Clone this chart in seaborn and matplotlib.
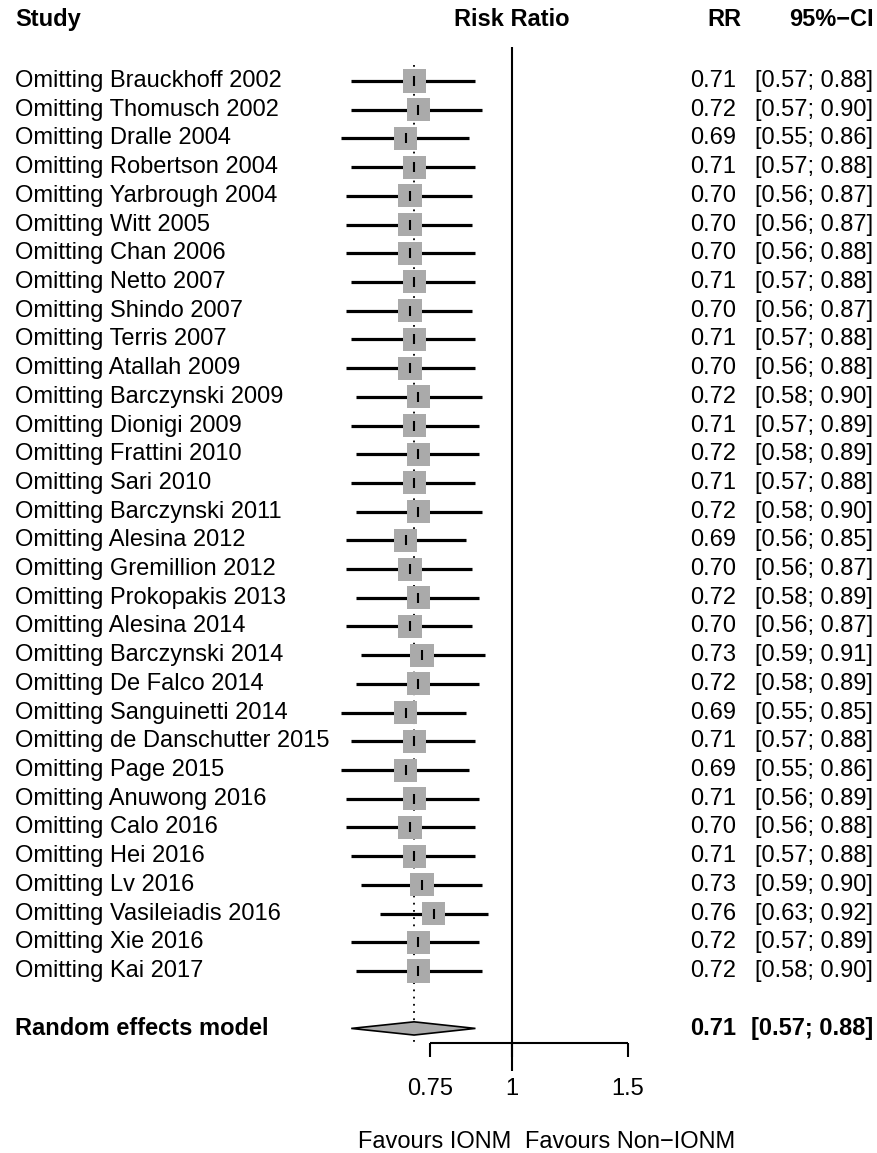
import numpy as np
import pandas as pd
import matplotlib
matplotlib.use("Agg")
import matplotlib.pyplot as plt
import seaborn as sns

studies = ["Brauckhoff 2002", "Thomusch 2002", "Dralle 2004", "Robertson 2004",
           "Yarbrough 2004", "Witt 2005", "Chan 2006", "Netto 2007", "Shindo 2007",
           "Terris 2007", "Atallah 2009", "Barczynski 2009", "Dionigi 2009",
           "Frattini 2010", "Sari 2010", "Barczynski 2011", "Alesina 2012",
           "Gremillion 2012", "Prokopakis 2013", "Alesina 2014", "Barczynski 2014",
           "De Falco 2014", "Sanguinetti 2014", "de Danschutter 2015", "Page 2015",
           "Anuwong 2016", "Calo 2016", "Hei 2016", "Lv 2016", "Vasileiadis 2016",
           "Xie 2016", "Kai 2017"]
rr = [0.71, 0.72, 0.69, 0.71, 0.70, 0.70, 0.70, 0.71, 0.70, 0.71, 0.70, 0.72,
      0.71, 0.72, 0.71, 0.72, 0.69, 0.70, 0.72, 0.70, 0.73, 0.72, 0.69, 0.71,
      0.69, 0.71, 0.70, 0.71, 0.73, 0.76, 0.72, 0.72]
lower = [0.57, 0.57, 0.55, 0.57, 0.56, 0.56, 0.56, 0.57, 0.56, 0.57, 0.56, 0.58,
         0.57, 0.58, 0.57, 0.58, 0.56, 0.56, 0.58, 0.56, 0.59, 0.58, 0.55, 0.57,
         0.55, 0.56, 0.56, 0.57, 0.59, 0.63, 0.57, 0.58]
upper = [0.88, 0.90, 0.86, 0.88, 0.87, 0.87, 0.88, 0.88, 0.87, 0.88, 0.88, 0.90,
         0.89, 0.89, 0.88, 0.90, 0.85, 0.87, 0.89, 0.87, 0.91, 0.89, 0.85, 0.88,
         0.86, 0.89, 0.88, 0.88, 0.90, 0.92, 0.89, 0.90]
pooled_rr, pooled_lo, pooled_hi = 0.71, 0.57, 0.88
xticks = [0.75, 1, 1.5]
xtick_labels = ["0.75", "1", "1.5"]

df = pd.DataFrame({"study": ["Omitting " + s for s in studies],
                   "rr": rr, "lower": lower, "upper": upper})
df["row"] = np.arange(len(df))

sns.set_theme(style="white")
plt.rcParams["font.family"] = ["Liberation Sans", "DejaVu Sans"]
plt.rcParams["text.color"] = "black"
fs = 17

W, H = 877, 1153
fig = plt.figure(figsize=(W / 100, H / 100), dpi=100)
ax = fig.add_axes([0, 0, 1, 1])
ax.set_xscale("log")
# pixel mapping: x_px = 512 + 286*ln(x); y_px = 81 + 28.71*row
ax.set_xlim(np.exp(-512 / 286), np.exp((W - 512) / 286))
ax.set_ylim((H - 81) / 28.71, -81 / 28.71)
ax.axis("off")

n = len(df)
sum_row = n + 1
axis_row = sum_row + 0.5

# reference lines
ax.vlines(1, -1.2, axis_row + 1.0, color="black", lw=1.5)
ax.vlines(pooled_rr, -0.55, axis_row + 0.05, color="black", lw=1.3,
          linestyles=(0, (1, 3)))

# CIs and squares
ax.hlines(df["row"], df["lower"], df["upper"], color="black", lw=2.3, zorder=2)
sns.scatterplot(data=df, x="rr", y="row", marker="s", s=275, color="#aaaaaa",
                edgecolor="none", ax=ax, zorder=3, legend=False)
sns.scatterplot(data=df, x="rr", y="row", marker="|", s=50, color="black",
                linewidth=1.5, ax=ax, zorder=4, legend=False)

# pooled diamond
h = 0.23
ax.fill([pooled_lo, pooled_rr, pooled_hi, pooled_rr],
        [sum_row, sum_row - h, sum_row, sum_row + h],
        facecolor="#aaaaaa", edgecolor="black", lw=1.2, zorder=3)

# x axis
ax.hlines(axis_row, xticks[0], xticks[-1], color="black", lw=1.5)
ax.vlines(xticks, axis_row, axis_row + 0.5, color="black", lw=1.5)
for t, lab in zip(xticks, xtick_labels):
    ax.text(t, axis_row + 1.6, lab, ha="center", va="center", fontsize=fs)

tr = ax.get_yaxis_transform()
def px(x):
    return x / W

# headers
hy = -2.15
ax.text(px(15), hy, "Study", transform=tr, ha="left", va="center",
        fontsize=fs, fontweight="bold")
ax.text(1, hy, "Risk Ratio", ha="center", va="center",
        fontsize=fs, fontweight="bold")
ax.text(px(741), hy, "RR", transform=tr, ha="right", va="center",
        fontsize=fs, fontweight="bold")
ax.text(px(874), hy, "95%\u2212CI", transform=tr, ha="right", va="center",
        fontsize=fs, fontweight="bold")

for _, r in df.iterrows():
    ax.text(px(15), r["row"], r["study"], transform=tr, ha="left",
            va="center", fontsize=fs)
    ax.text(px(736), r["row"], f"{r['rr']:.2f}", transform=tr, ha="right",
            va="center", fontsize=fs)
    ax.text(px(873), r["row"], f"[{r['lower']:.2f}; {r['upper']:.2f}]",
            transform=tr, ha="right", va="center", fontsize=fs)

ax.text(px(15), sum_row, "Random effects model", transform=tr, ha="left",
        va="center", fontsize=fs, fontweight="bold")
ax.text(px(736), sum_row, f"{pooled_rr:.2f}", transform=tr, ha="right",
        va="center", fontsize=fs, fontweight="bold")
ax.text(px(873), sum_row, f"[{pooled_lo:.2f}; {pooled_hi:.2f}]", transform=tr,
        ha="right", va="center", fontsize=fs, fontweight="bold")

fy = axis_row + 3.45
ax.text(px(511), fy, "Favours IONM", transform=tr, ha="right", va="center",
        fontsize=fs)
ax.text(px(525), fy, "Favours Non\u2212IONM", transform=tr, ha="left",
        va="center", fontsize=fs)

fig.savefig("out.png", dpi=100)
